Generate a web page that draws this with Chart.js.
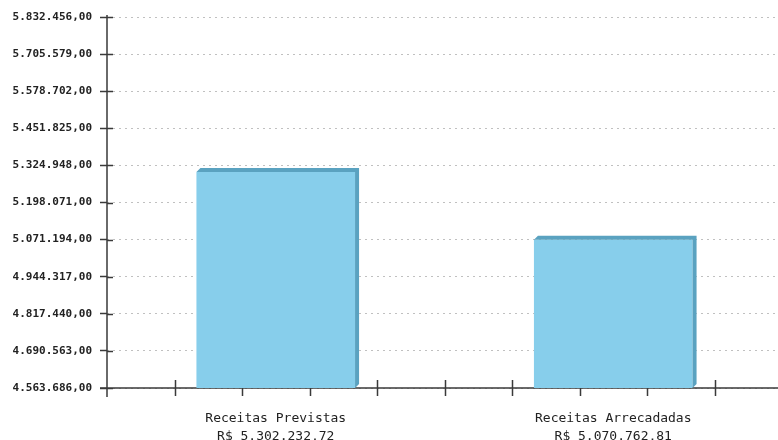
<!DOCTYPE html>
<html lang="pt-BR">
<head>
<meta charset="UTF-8" />
<title>Receitas</title>
<script src="https://cdn.jsdelivr.net/npm/chart.js"></script>
<style>
  html, body { margin: 0; padding: 0; background: #fff; overflow: hidden; }
  #wrap { width: 782px; height: 440px; }
</style>
</head>
<body>
<div id="wrap"><canvas id="myChart" width="782" height="440"></canvas></div>
<script>
  // data
  const categories = [
    ["Receitas Previstas", "R$ 5.302.232,72"],
    ["Receitas Arrecadadas", "R$ 5.070.762,81"]
  ];
  const values = [5302232.72, 5070762.81];
  const yTicks = [4563686, 4690563, 4817440, 4944317, 5071194, 5198071,
                  5324948, 5451825, 5578702, 5705579, 5832456];

  const fmt = v => Math.round(v).toString().replace(/\B(?=(\d{3})+(?!\d))/g, ".") + ",00";

  const frontColor = "#87ceeb";
  const sideColor = "#5aa2c0";
  const axisColor = "#3a3a3a";

  // axis lines and tick marks, drawn under the bars
  const axesPlugin = {
    id: "axes",
    beforeDatasetsDraw(chart) {
      const { ctx, chartArea: a } = chart;
      ctx.save();
      ctx.strokeStyle = axisColor;
      ctx.lineWidth = 1.5;
      ctx.beginPath();
      ctx.moveTo(a.left, a.top - 2);
      ctx.lineTo(a.left, a.bottom + 9);
      ctx.moveTo(a.left - 7, a.bottom);
      ctx.lineTo(a.right, a.bottom);
      const y = chart.scales.y;
      yTicks.forEach(t => {
        const py = Math.round(y.getPixelForValue(t)) + 0.5;
        ctx.moveTo(a.left, py);
        ctx.lineTo(a.left + 6, py);
      });
      const step = (a.right - a.left) / 10;
      for (let i = 1; i <= 10; i++) {
        const px = Math.round(a.left + i * step) + 0.5;
        ctx.moveTo(px, a.bottom - 8);
        ctx.lineTo(px, a.bottom + 8);
      }
      ctx.stroke();
      ctx.restore();
    }
  };

  // darker top and right faces to give the bars depth
  const depthPlugin = {
    id: "depth",
    afterDatasetsDraw(chart) {
      const { ctx, chartArea: a } = chart;
      const d = 4;
      ctx.save();
      ctx.fillStyle = sideColor;
      chart.getDatasetMeta(0).data.forEach(bar => {
        const l = bar.x - bar.width / 2, r = bar.x + bar.width / 2;
        const t = bar.y, b = Math.min(bar.base, a.bottom);
        ctx.beginPath();
        ctx.moveTo(l, t);
        ctx.lineTo(l + d, t - d);
        ctx.lineTo(r + d, t - d);
        ctx.lineTo(r + d, b - d);
        ctx.lineTo(r, b);
        ctx.lineTo(r, t);
        ctx.closePath();
        ctx.fill();
      });
      ctx.restore();
    }
  };

  const ctx = document.getElementById("myChart").getContext("2d");
  new Chart(ctx, {
    type: "bar",
    data: {
      labels: categories,
      datasets: [{
        data: values,
        backgroundColor: frontColor,
        borderWidth: 0,
        categoryPercentage: 1,
        barPercentage: 0.47
      }]
    },
    options: {
      responsive: false,
      animation: false,
      layout: { padding: { top: 17, right: 0, left: 0, bottom: 0 } },
      plugins: { legend: { display: false }, tooltip: { enabled: false } },
      scales: {
        x: {
          grid: { display: false },
          border: { display: false },
          ticks: {
            color: "#222",
            font: { family: "DejaVu Sans Mono", size: 13, lineHeight: 1.35 },
            padding: 14,
            maxRotation: 0
          },
          afterFit: s => { s.height = 52; }
        },
        y: {
          min: yTicks[0],
          max: yTicks[yTicks.length - 1],
          afterBuildTicks: s => { s.ticks = yTicks.map(v => ({ value: v })); },
          grid: {
            color: "#c0c0c0",
            lineWidth: 1,
            drawTicks: true,
            tickLength: 7,
            tickColor: axisColor,
            tickWidth: 1.5
          },
          border: { display: false, dash: [2, 4] },
          ticks: {
            color: "#222",
            font: { family: "DejaVu Sans Mono", size: 11, weight: "bold" },
            padding: 8,
            callback: v => fmt(v)
          },
          afterFit: s => { s.width = 107; }
        }
      }
    },
    plugins: [axesPlugin, depthPlugin]
  });
</script>
</body>
</html>
